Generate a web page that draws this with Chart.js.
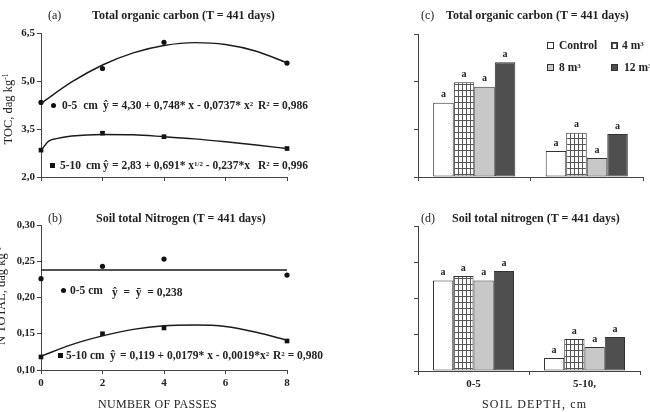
<!DOCTYPE html>
<html>
<head>
<meta charset="utf-8">
<script src="https://cdn.jsdelivr.net/npm/chart.js@4.4.1/dist/chart.umd.min.js"></script>
<style>
  body { margin: 0; background: #fff; }
  #wrap { position: relative; width: 650px; height: 412px; overflow: hidden; font-family: 'Liberation Serif', 'Times New Roman', serif; color: #222; }
  canvas { position: absolute; }
  .t { position: absolute; white-space: nowrap; line-height: 1; }
  .b { font-weight: bold; }
  sup { font-size: 0.6em; vertical-align: 0; position: relative; top: -0.5em; }
  .dot { position: absolute; width: 5px; height: 5px; border-radius: 50%; background: #111; }
  .sq { position: absolute; width: 5px; height: 5px; background: #111; }
  .lg { position: absolute; width: 5px; height: 5px; border: 1px solid #333; }
</style>
</head>
<body>
<div id="wrap">
  <canvas id="ca" width="330" height="200" style="left:0;top:0"></canvas>
  <canvas id="cb" width="330" height="212" style="left:0;top:200px"></canvas>
  <canvas id="cc" width="320" height="200" style="left:330px;top:0"></canvas>
  <canvas id="cd" width="320" height="212" style="left:330px;top:200px"></canvas>

  <!-- titles -->
  <div class="t" style="left:48px;top:9px;font-size:12px">(a)</div>
  <div class="t b" style="left:92px;top:9px;font-size:12px">Total organic carbon (T = 441 days)</div>
  <div class="t" style="left:48px;top:212px;font-size:12px">(b)</div>
  <div class="t b" style="left:96px;top:212px;font-size:12px">Soil total Nitrogen (T = 441 days)</div>
  <div class="t" style="left:421px;top:9px;font-size:12px">(c)</div>
  <div class="t b" style="left:446px;top:9px;font-size:12px">Total organic carbon (T = 441 days)</div>
  <div class="t" style="left:421px;top:212px;font-size:12px">(d)</div>
  <div class="t b" style="left:452px;top:212px;font-size:12px">Soil total nitrogen (T = 441 days)</div>

  <!-- axis titles -->
  <div class="t" style="left:8px;top:109px;font-size:12.5px;transform:translate(-50%,-50%) rotate(-90deg)">TOC, dag kg<sup>-1</sup></div>
  <div class="t" style="left:1px;top:296px;font-size:12.5px;transform:translate(-50%,-50%) rotate(-90deg)">N TOTAL, dag kg<sup>-1</sup></div>
  <div class="t" style="left:98px;top:398px;font-size:12px;letter-spacing:0.3px">NUMBER OF PASSES</div>
  <div class="t" style="left:482px;top:398px;font-size:12px;letter-spacing:1.2px">SOIL DEPTH, cm</div>

  <!-- panel (a) annotations -->
  <div class="dot" style="left:51px;top:103px"></div>
  <div class="t b" style="left:62px;top:100px;font-size:11.5px;word-spacing:3px">0-5 cm</div>
  <div class="t b" style="left:103px;top:100px;font-size:11.5px">ŷ</div>
  <div class="t b" style="left:112px;top:100px;font-size:11.5px">= 4,30 + 0,748* x - 0,0737* x<sup>2</sup></div>
  <div class="t b" style="left:258px;top:100px;font-size:11.5px">R<sup>2</sup> = 0,986</div>
  <div class="sq" style="left:50px;top:163px"></div>
  <div class="t b" style="left:60px;top:160px;font-size:11.5px;word-spacing:2px">5-10 cm</div>
  <div class="t b" style="left:103px;top:160px;font-size:11.5px">ŷ</div>
  <div class="t b" style="left:112px;top:160px;font-size:11.5px">= 2,83 + 0,691* x<sup>1/2</sup> - 0,237*x</div>
  <div class="t b" style="left:258px;top:160px;font-size:11.5px">R<sup>2</sup> = 0,996</div>

  <!-- panel (b) annotations -->
  <div class="dot" style="left:61px;top:288px"></div>
  <div class="t b" style="left:70px;top:285px;font-size:11.5px">0-5 cm</div>
  <div class="t b" style="left:112px;top:287px;font-size:11.5px">ŷ&nbsp; = &nbsp;ȳ&nbsp; = 0,238</div>
  <div class="sq" style="left:58px;top:353px"></div>
  <div class="t b" style="left:66px;top:350px;font-size:11.5px">5-10 cm</div>
  <div class="t b" style="left:110px;top:350px;font-size:11.5px">ŷ</div>
  <div class="t b" style="left:120px;top:350px;font-size:11.5px">= 0,119 + 0,0179* x - 0,0019*x<sup>2</sup></div>
  <div class="t b" style="left:273px;top:350px;font-size:11.5px">R<sup>2</sup> = 0,980</div>

  <!-- legend for bar panels -->
  <div class="lg" style="left:547px;top:42px;background:#fff"></div>
  <div class="t b" style="left:559px;top:40px;font-size:11.5px">Control</div>
  <div class="lg" id="lg4" style="left:611px;top:42px"></div>
  <div class="t b" style="left:622px;top:40px;font-size:11.5px">4 m<sup>3</sup></div>
  <div class="lg" style="left:547px;top:64px;background:#c8c8c8"></div>
  <div class="t b" style="left:559px;top:62px;font-size:11.5px">8 m<sup>3</sup></div>
  <div class="lg" style="left:611px;top:64px;background:#4f4f4f"></div>
  <div class="t b" style="left:624px;top:62px;font-size:11.5px">12 m<sup>3</sup></div>
</div>

<script>
// data
const passes = [0, 2, 4, 8];
const toc0_5 = [4.33, 5.39, 6.21, 5.56];
const toc5_10 = [2.84, 3.37, 3.26, 2.89];
const nit0_5 = [0.226, 0.243, 0.253, 0.231];
const nit5_10 = [0.118, 0.150, 0.158, 0.140];

// fitted curves, values
const tocFitX0_5 = [0, 1, 2, 3, 4, 5, 6, 7, 8];
const tocFitY0_5 = [4.30, 4.97, 5.50, 5.88, 6.11, 6.20, 6.14, 5.93, 5.57];
const tocFitX5_10 = [0, 0.25, 0.5, 1, 2, 3, 4, 5, 6, 7, 8];
const tocFitY5_10 = [2.83, 3.12, 3.20, 3.28, 3.33, 3.32, 3.26, 3.19, 3.10, 3.00, 2.89];
const nitMeanX = [0, 8];
const nitMeanY = [0.238, 0.238];
const nitFitX5_10 = [0, 1, 2, 3, 4, 5, 6, 7, 8];
const nitFitY5_10 = [0.119, 0.135, 0.147, 0.156, 0.161, 0.162, 0.160, 0.152, 0.141];

// bar panels
const depths = ['0-5', '5-10,'];
const doses = ['Control', '4 m3', '8 m3', '12 m3'];
const tocControl = [4.34, 2.82];
const toc4m3 = [4.98, 3.39];
const toc8m3 = [4.84, 2.60];
const toc12m3 = [5.61, 3.35];
const nitControl = [0.225, 0.118];
const nit4m3 = [0.231, 0.144];
const nit8m3 = [0.225, 0.133];
const nit12m3 = [0.238, 0.147];
const tocLetters = [['a', 'a'], ['a', 'a'], ['a', 'a'], ['a', 'a']];
const nitLetters = [['a', 'a'], ['a', 'a'], ['a', 'a'], ['a', 'a']];

Chart.defaults.font.family = "'Liberation Serif', 'Times New Roman', serif";
Chart.defaults.color = '#222';

const axisCol = '#444';

// grid hatch for the 4 m3 bars
function makeHatch() {
  const c = document.createElement('canvas');
  c.width = 4; c.height = 6;
  const g = c.getContext('2d');
  g.fillStyle = '#fff';
  g.fillRect(0, 0, 4, 6);
  g.fillStyle = '#555';
  g.fillRect(0, 0, 1, 6);
  g.fillRect(0, 0, 4, 1);
  return c;
}
const hatchCanvas = makeHatch();
const hatch = document.getElementById('cc').getContext('2d').createPattern(hatchCanvas, 'repeat');
document.getElementById('lg4').style.background = 'url(' + hatchCanvas.toDataURL() + ')';

const pts = (xs, ys) => xs.map((x, i) => ({ x: x, y: ys[i] }));

function xScale(h, showLabels) {
  return {
    type: 'linear', min: 0, max: 8,
    ticks: { stepSize: 2, display: showLabels, font: { size: 11, weight: 'bold' }, padding: 3, color: '#222' },
    grid: { drawOnChartArea: false, drawTicks: true, tickLength: 4, color: axisCol },
    border: { display: true, color: axisCol, width: 1 },
    afterFit: s => { s.height = h; }
  };
}
function yScale(min, max, step, dec, w, showLabels, fs) {
  return {
    min: min, max: max,
    ticks: { stepSize: step, display: showLabels, font: { size: fs, weight: 'bold' }, padding: 2, color: '#222',
      callback: v => Number(v).toFixed(dec).replace('.', ',') },
    grid: { drawOnChartArea: false, drawTicks: true, tickLength: 4, color: axisCol },
    border: { display: true, color: axisCol, width: 1 },
    afterFit: s => { s.width = w; }
  };
}

function markSet(data, style, r) {
  return { data: data, showLine: false, clip: false, pointStyle: style, pointRadius: r, pointBackgroundColor: '#111', pointBorderColor: '#111', pointBorderWidth: 0 };
}
function lineSet(data) {
  return { data: data, showLine: true, pointRadius: 0, borderColor: '#1a1a1a', borderWidth: 1.4, cubicInterpolationMode: 'monotone', fill: false };
}

const baseOpts = { responsive: false, animation: false, devicePixelRatio: 1,
  plugins: { legend: { display: false }, tooltip: { enabled: false } } };

new Chart(document.getElementById('ca'), {
  type: 'scatter',
  data: { datasets: [
    lineSet(pts(tocFitX0_5, tocFitY0_5)),
    lineSet(pts(tocFitX5_10, tocFitY5_10)),
    markSet(pts(passes, toc0_5), 'circle', 2.6),
    markSet(pts(passes, toc5_10), 'rect', 3.3)
  ] },
  options: Object.assign({}, baseOpts, {
    layout: { padding: { left: 0, right: 43, top: 33, bottom: 0 } },
    scales: { x: xScale(23, false), y: yScale(2, 6.5, 1.5, 1, 41, true, 11) }
  })
});

new Chart(document.getElementById('cb'), {
  type: 'scatter',
  data: { datasets: [
    lineSet(pts(nitMeanX, nitMeanY)),
    lineSet(pts(nitFitX5_10, nitFitY5_10)),
    markSet(pts(passes, nit0_5), 'circle', 2.6),
    markSet(pts(passes, nit5_10), 'rect', 3.3)
  ] },
  options: Object.assign({}, baseOpts, {
    layout: { padding: { left: 0, right: 43, top: 25, bottom: 0 } },
    scales: { x: xScale(42, true), y: yScale(0.10, 0.30, 0.05, 2, 41, true, 10.5) }
  })
});

// draws the significance letters above each bar
function lettersPlugin(letters) {
  return {
    id: 'letters',
    afterDatasetsDraw(chart) {
      const ctx = chart.ctx;
      ctx.save();
      ctx.font = "bold 10px 'Liberation Serif', serif";
      ctx.fillStyle = '#222';
      ctx.textAlign = 'center';
      ctx.textBaseline = 'bottom';
      chart.data.datasets.forEach((ds, i) => {
        chart.getDatasetMeta(i).data.forEach((bar, j) => {
          ctx.fillText(letters[i][j], bar.x, bar.y - 3);
        });
      });
      ctx.restore();
    }
  };
}

function barSets(vals, base) {
  const fills = ['#ffffff', hatch, '#c8c8c8', '#4f4f4f'];
  return vals.map((v, i) => ({
    label: doses[i], data: v, base: base,
    backgroundColor: fills[i], borderColor: '#333', borderWidth: 1, borderSkipped: false,
    categoryPercentage: 0.73, barPercentage: 1.0
  }));
}
function barX(h, showLabels) {
  return {
    ticks: { display: showLabels, font: { size: 11, weight: 'bold' }, padding: 3, color: '#222' },
    grid: { drawOnChartArea: false, drawTicks: true, tickLength: 4, color: axisCol, offset: true },
    border: { display: true, color: axisCol, width: 1 },
    afterFit: s => { s.height = h; }
  };
}

new Chart(document.getElementById('cc'), {
  type: 'bar',
  data: { labels: depths, datasets: barSets([tocControl, toc4m3, toc8m3, toc12m3], 2) },
  options: Object.assign({}, baseOpts, {
    layout: { padding: { left: 0, right: 7, top: 34, bottom: 0 } },
    scales: { x: barX(23, false), y: yScale(2, 6.5, 1.5, 1, 88, false, 11) }
  }),
  plugins: [lettersPlugin(tocLetters)]
});

new Chart(document.getElementById('cd'), {
  type: 'bar',
  data: { labels: depths, datasets: barSets([nitControl, nit4m3, nit8m3, nit12m3], 0.10) },
  options: Object.assign({}, baseOpts, {
    layout: { padding: { left: 0, right: 10, top: 26, bottom: 0 } },
    scales: { x: barX(41, true), y: yScale(0.10, 0.30, 0.05, 2, 88, false, 11) }
  }),
  plugins: [lettersPlugin(nitLetters)]
});
</script>
</body>
</html>
